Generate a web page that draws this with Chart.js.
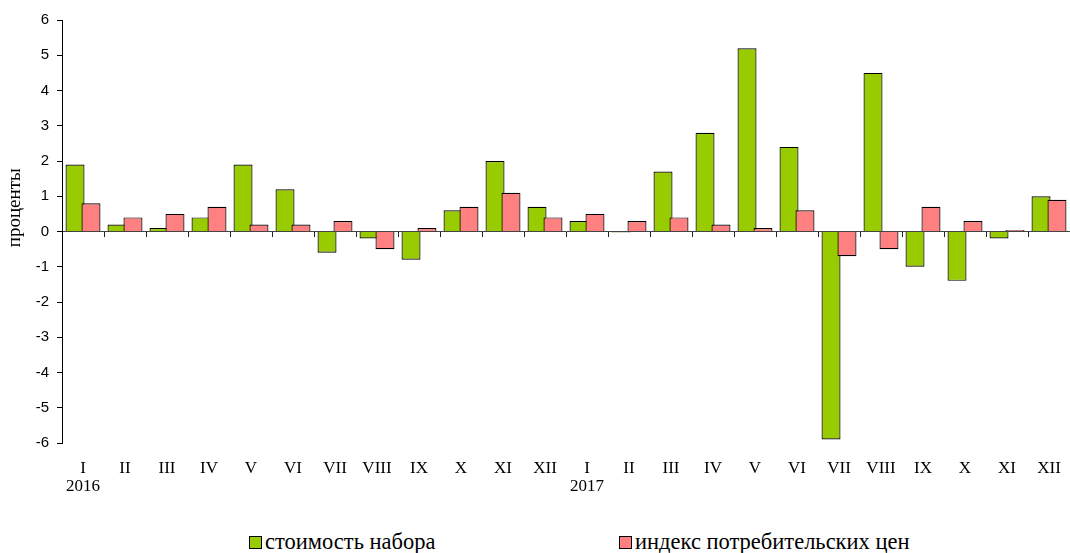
<!DOCTYPE html>
<html>
<head>
<meta charset="utf-8">
<script src="https://cdn.jsdelivr.net/npm/chart.js@4.4.0/dist/chart.umd.min.js"></script>
<style>
  body { margin: 0; background: #fff; }
  #wrap { position: relative; width: 1070px; height: 553px; }
  #box { position: absolute; left: 0; top: 0; width: 1070px; height: 515px; }
  .leg { position: absolute; top: 529px; font-family: "Liberation Serif", serif; font-size: 22.5px; color: #000; white-space: nowrap; }
  .leg i { display: inline-block; width: 11px; height: 11px; border: 1px solid #000; margin-right: 3px; vertical-align: 0px; }
</style>
</head>
<body>
<div id="wrap">
  <div id="box"><canvas id="myChart"></canvas></div>
  <div class="leg" style="left:249px"><i style="background:#99CC00"></i>стоимость набора</div>
  <div class="leg" style="left:619px"><i style="background:#FF8080"></i>индекс потребительских цен</div>
</div>
<script>
// месяцы 2016-2017
const months = ['I','II','III','IV','V','VI','VII','VIII','IX','X','XI','XII'];
const years = ['2016', '2017'];
const costSet = [1.9, 0.2, 0.1, 0.4, 1.9, 1.2, -0.6, -0.2, -0.8, 0.6, 2.0, 0.7,
                 0.3, -0.03, 1.7, 2.8, 5.2, 2.4, -5.9, 4.5, -1.0, -1.4, -0.2, 1.0];
const cpi = [0.8, 0.4, 0.5, 0.7, 0.2, 0.2, 0.3, -0.5, 0.1, 0.7, 1.1, 0.4,
             0.5, 0.3, 0.4, 0.2, 0.1, 0.6, -0.7, -0.5, 0.7, 0.3, 0.04, 0.9];
const yTicks = [-6, -5, -4, -3, -2, -1, 0, 1, 2, 3, 4, 5, 6];

const labels = [];
years.forEach(y => months.forEach((m, i) => labels.push(i === 0 ? [m, y] : m)));

// розовые столбики рисуем поверх зелёных
const pinkOnTop = {
    id: 'pinkOnTop',
    beforeDatasetDraw(chart, args) {
        if (args.index === 1) return false;
    },
    afterDatasetsDraw(chart) {
        const meta = chart.getDatasetMeta(1);
        const area = chart.chartArea;
        const c = chart.ctx;
        c.save();
        c.beginPath();
        c.rect(area.left, area.top, area.right - area.left, area.bottom - area.top);
        c.clip();
        meta.controller.draw();
        c.restore();
    }
};

const ctx = document.getElementById('myChart').getContext('2d');
new Chart(ctx, {
    type: 'bar',
    data: {
        labels: labels,
        datasets: [{
            label: 'стоимость набора',
            data: costSet,
            backgroundColor: '#99CC00',
            borderColor: '#000',
            borderWidth: 1.2
        }, {
            label: 'индекс потребительских цен',
            data: cpi,
            backgroundColor: '#FF8080',
            borderColor: '#000',
            borderWidth: 1.2
        }]
    },
    options: {
        responsive: true,
        maintainAspectRatio: false,
        animation: false,
        categoryPercentage: 0.76,
        barPercentage: 1.19,
        layout: { padding: { top: 20, right: 0, left: 0, bottom: 0 } },
        plugins: {
            legend: { display: false },
            tooltip: { enabled: false }
        },
        scales: {
            x: {
                offset: true,
                border: { display: false },
                grid: { display: false },
                ticks: {
                    color: '#000',
                    padding: 9,
                    maxRotation: 0,
                    autoSkip: false,
                    font: { family: 'Liberation Serif', size: 17, lineHeight: 1.05 }
                },
                afterFit: s => { s.height = 72; }
            },
            x2: {
                position: { y: 0 },
                offset: true,
                border: { display: true, color: '#444', width: 1 },
                grid: { drawOnChartArea: false, offset: true, tickLength: 5, color: '#222' },
                ticks: { display: false }
            },
            y: {
                min: -6,
                max: 6,
                border: { display: true, color: '#000', width: 1 },
                grid: { drawOnChartArea: false, tickLength: 5, color: '#000' },
                afterBuildTicks: s => { s.ticks = yTicks.map(v => ({ value: v })); },
                ticks: {
                    color: '#000',
                    padding: 8,
                    font: { family: 'Liberation Sans', size: 15 }
                },
                title: {
                    display: true,
                    text: '\u00a0'.repeat(10) + 'проценты',
                    color: '#000',
                    padding: { top: 4, bottom: 0 },
                    font: { family: 'Liberation Serif', size: 19 }
                },
                afterFit: s => { s.width = 62; }
            }
        }
    },
    plugins: [pinkOnTop]
});
</script>
</body>
</html>
